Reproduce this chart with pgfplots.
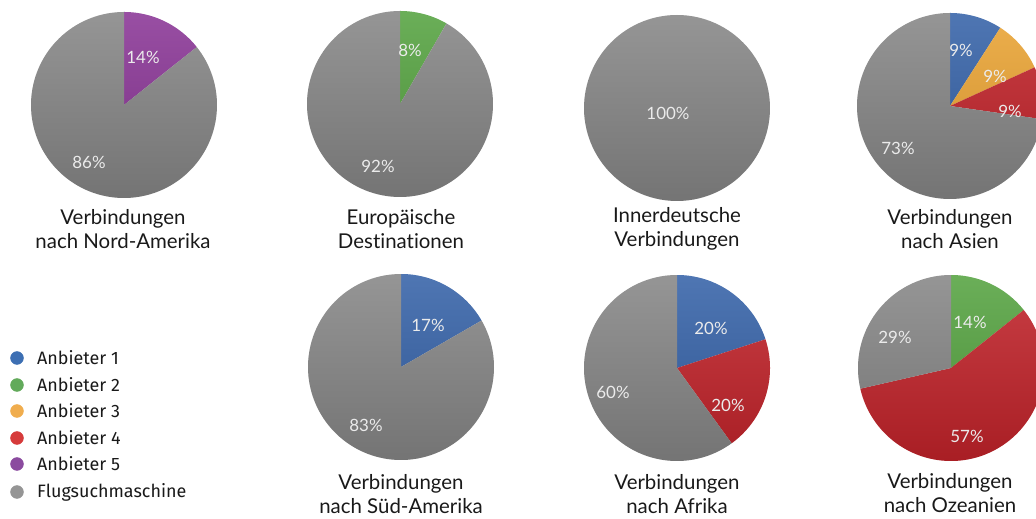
\documentclass[border=0pt]{standalone}
\usepackage{fontspec}
\setmainfont{Lato}[Ligatures=NoCommon]
\newfontfamily\legfont{Fira Sans}
\usepackage{pgfplots}
\pgfplotsset{compat=1.18}
\definecolor{cA}{HTML}{3562A8}
\definecolor{cB}{HTML}{55A340}
\definecolor{cC}{HTML}{EBA433}
\definecolor{cD}{HTML}{C2232A}
\definecolor{cE}{HTML}{8A3596}
\definecolor{cF}{HTML}{868686}
\definecolor{lA}{HTML}{3D6FB3}
\definecolor{lB}{HTML}{62AA5B}
\definecolor{lC}{HTML}{F0AD4E}
\definecolor{lD}{HTML}{D63B3B}
\definecolor{lE}{HTML}{8B4B9F}
\definecolor{lF}{HTML}{959595}
\newcommand{\R}{93}
% #1 cx, #2 cy, #3 cumulative percent before, #4 cumulative percent after, #5 colour
\newcommand{\slice}[5]{%
  \pgfmathsetmacro\angA{90-3.6*#4}%
  \pgfmathsetmacro\angB{90-3.6*#3}%
  \addplot[fill=#5, draw=none, domain=\angA:\angB, samples=120, variable=\t]
    ({#1+\R*cos(\t)},{#2+\R*sin(\t)}) -- (axis cs:#1,#2) -- cycle;}
% light/shadow overlay of a whole pie
\newcommand{\gloss}[2]{%
  \addplot[draw=none, top color=white, bottom color=black, fill opacity=0.13,
    domain=-180:180, samples=120, variable=\t]
    ({#1+\R*cos(\t)},{#2+\R*sin(\t)}) -- cycle;}
\begin{document}
\begin{tikzpicture}
\begin{axis}[
  scale only axis, width=1036bp, height=518bp,
  xmin=0, xmax=1036, ymin=0, ymax=518,
  hide axis, clip=true,
]
\path[draw=none] (rel axis cs:0,0) rectangle (rel axis cs:1,1);
% Nord-Amerika: Anbieter 5 14.29, Flug 85.71
\slice{124}{413}{0}{14.29}{cE}
\slice{124}{413}{14.29}{100}{cF}
\gloss{124}{413}
% Europa: Anbieter 2 8.33, Flug 91.67
\slice{400}{414}{0}{8.33}{cB}
\slice{400}{414}{8.33}{100}{cF}
\gloss{400}{414}
% Innerdeutsch: Flug 100
\slice{677}{410}{0}{100}{cF}
\gloss{677}{410}
% Asien: 9.09 / 9.09 / 9.09 / 72.73
\slice{950}{412}{0}{9.09}{cA}
\slice{950}{412}{9.09}{18.18}{cC}
\slice{950}{412}{18.18}{27.27}{cD}
\slice{950}{412}{27.27}{100}{cF}
\gloss{950}{412}
% Sued-Amerika: 16.67 / 83.33
\slice{401}{151}{0}{16.67}{cA}
\slice{401}{151}{16.67}{100}{cF}
\gloss{401}{151}
% Afrika: 20 / 20 / 60
\slice{677}{150}{0}{20}{cA}
\slice{677}{150}{20}{40}{cD}
\slice{677}{150}{40}{100}{cF}
\gloss{677}{150}
% Ozeanien: 14.29 / 57.14 / 28.57
\slice{951}{150}{0}{14.29}{cB}
\slice{951}{150}{14.29}{71.43}{cD}
\slice{951}{150}{71.43}{100}{cF}
\gloss{951}{150}
% legend markers
\addplot[only marks, mark=*, mark size=6.5, color=lA] coordinates {(17,160)};
\addplot[only marks, mark=*, mark size=6.5, color=lB] coordinates {(17,133)};
\addplot[only marks, mark=*, mark size=6.5, color=lC] coordinates {(17,107)};
\addplot[only marks, mark=*, mark size=6.5, color=lD] coordinates {(17,80)};
\addplot[only marks, mark=*, mark size=6.5, color=lE] coordinates {(17,54)};
\addplot[only marks, mark=*, mark size=6.5, color=lF] coordinates {(17,26)};
\begin{scope}[every node/.style={font=\legfont\fontsize{18}{21}\selectfont, anchor=west, inner sep=0pt, text=black!90}]
\node at (axis cs:37,160) {Anbieter 1};
\node at (axis cs:37,133) {Anbieter 2};
\node at (axis cs:37,107) {Anbieter 3};
\node at (axis cs:37,80) {Anbieter 4};
\node at (axis cs:37,54) {Anbieter 5};
\node at (axis cs:37,26) {Flugsuchmaschine};
\end{scope}
% titles
\begin{scope}[every node/.style={font=\fontsize{20.5}{24}\selectfont, align=center, inner sep=0pt, text=black!90}]
\node at (axis cs:123,289) {Verbindungen\\nach Nord-Amerika};
\node at (axis cs:401,289) {Europäische\\Destinationen};
\node at (axis cs:677,289) {Innerdeutsche\\Verbindungen};
\node at (axis cs:950,289) {Verbindungen\\nach Asien};
\node at (axis cs:401,24) {Verbindungen\\nach Süd-Amerika};
\node at (axis cs:677,24) {Verbindungen\\nach Afrika};
\node at (axis cs:950,25) {Verbindungen\\nach Ozeanien};
\end{scope}
% percentages
\begin{scope}[every node/.style={font=\fontsize{17}{20}\selectfont, inner sep=0pt, text=white!92!black}]
\node at (axis cs:143,461) {14\%};
\node at (axis cs:89,356) {86\%};
\node at (axis cs:410,468) {8\%};
\node at (axis cs:378,352) {92\%};
\node at (axis cs:668,405) {100\%};
\node at (axis cs:961,468) {9\%};
\node at (axis cs:995,442) {9\%};
\node at (axis cs:1010,407) {9\%};
\node at (axis cs:898,370) {73\%};
\node at (axis cs:428,193) {17\%};
\node at (axis cs:366,93) {83\%};
\node at (axis cs:711,190) {20\%};
\node at (axis cs:728,113) {20\%};
\node at (axis cs:613,126) {60\%};
\node at (axis cs:970,196) {14\%};
\node at (axis cs:895,181) {29\%};
\node at (axis cs:967,82) {57\%};
\end{scope}
\end{axis}
\end{tikzpicture}
\end{document}
